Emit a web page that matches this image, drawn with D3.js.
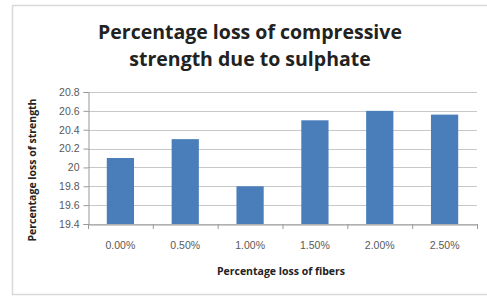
<!DOCTYPE html>
<html>
<head>
<meta charset="utf-8">
<script src="https://cdn.jsdelivr.net/npm/d3@7"></script>
<style>
  body { margin: 0; background: #fff; }
  svg { display: block; font-family: "Open Sans", "Liberation Sans", sans-serif; }
</style>
</head>
<body>
<script>
var width = 487,
    height = 297;

// chart data
var categories = ["0.00%", "0.50%", "1.00%", "1.50%", "2.00%", "2.50%"];
var values = [20.1, 20.3, 19.8, 20.5, 20.6, 20.56];
var yTicks = [19.4, 19.6, 19.8, 20, 20.2, 20.4, 20.6, 20.8];

var margin = {top: 92, right: 10, bottom: 73, left: 88};

var svg = d3.select("body").append("svg")
    .attr("width", width)
    .attr("height", height);

// outer chart frame
svg.append("rect")
    .attr("x", 12.5)
    .attr("y", 5.5)
    .attr("width", 480)
    .attr("height", 289)
    .attr("fill", "#fff")
    .attr("stroke", "#d9d9d9")
    .attr("stroke-width", 1.5);

var x = d3.scaleBand()
    .domain(categories)
    .range([margin.left, width - margin.right])
    .paddingInner(0.58)
    .paddingOuter(0.29);

var y = d3.scaleLinear()
    .domain([19.4, 20.8])
    .range([height - margin.bottom, margin.top]);

// gridlines
svg.append("g")
  .selectAll("line")
  .data(yTicks)
  .enter().append("line")
    .attr("x1", margin.left)
    .attr("x2", width - margin.right)
    .attr("y1", function(d) { return Math.round(y(d)) + 0.5; })
    .attr("y2", function(d) { return Math.round(y(d)) + 0.5; })
    .attr("stroke", "#c8c8c8")
    .attr("stroke-width", 1);

// bars
svg.append("g")
  .selectAll("rect")
  .data(values)
  .enter().append("rect")
    .attr("x", function(d, i) { return x(categories[i]); })
    .attr("y", function(d) { return y(d); })
    .attr("width", x.bandwidth())
    .attr("height", function(d) { return y(19.4) - y(d); })
    .attr("fill", "#4a7ebb");

// y axis
var yAxis = svg.append("g")
    .attr("transform", "translate(" + (margin.left + 0.5) + ",0)")
    .call(d3.axisLeft(y).tickValues(yTicks).tickSize(5).tickPadding(4)
      .tickFormat(function(d) { return d3.format("")(+d.toFixed(1)); }));
yAxis.select(".domain").attr("stroke", "#999");
yAxis.selectAll(".tick line").attr("stroke", "#999");
yAxis.selectAll("text")
    .attr("fill", "#595959")
    .style("font-size", "10.5px")
    .style("font-family", "'Liberation Sans Narrow', 'Liberation Sans', sans-serif");

// x axis
var xAxis = svg.append("g")
    .attr("transform", "translate(0," + (y(19.4) + 0.5) + ")")
    .call(d3.axisBottom(x).tickSize(0).tickPadding(17));
xAxis.select(".domain").attr("stroke", "#999");
xAxis.selectAll("text")
    .attr("fill", "#595959")
    .style("font-size", "10.5px")
    .style("font-family", "'Liberation Sans Narrow', 'Liberation Sans', sans-serif");

// category boundary ticks
var step = x.step();
svg.append("g")
  .selectAll("line")
  .data(d3.range(categories.length + 1))
  .enter().append("line")
    .attr("x1", function(i) { return margin.left + 0.5 + i * step; })
    .attr("x2", function(i) { return margin.left + 0.5 + i * step; })
    .attr("y1", y(19.4))
    .attr("y2", y(19.4) + 5)
    .attr("stroke", "#999");

// title
var title = svg.append("text")
    .attr("text-anchor", "middle")
    .attr("fill", "#222")
    .style("font-size", "19.5px")
    .style("font-weight", "bold");
title.append("tspan").attr("x", 250).attr("y", 39).text("Percentage loss of compressive");
title.append("tspan").attr("x", 250).attr("y", 66).text("strength due to sulphate");

// axis titles
svg.append("text")
    .attr("x", 281)
    .attr("y", 275)
    .attr("text-anchor", "middle")
    .attr("fill", "#222")
    .style("font-size", "10.5px")
    .style("font-weight", "bold")
    .text("Percentage loss of fibers");

svg.append("text")
    .attr("transform", "translate(36,170) rotate(-90)")
    .attr("text-anchor", "middle")
    .attr("fill", "#222")
    .style("font-size", "10.5px")
    .style("font-weight", "bold")
    .text("Percentage loss of strength");
</script>
</body>
</html>
